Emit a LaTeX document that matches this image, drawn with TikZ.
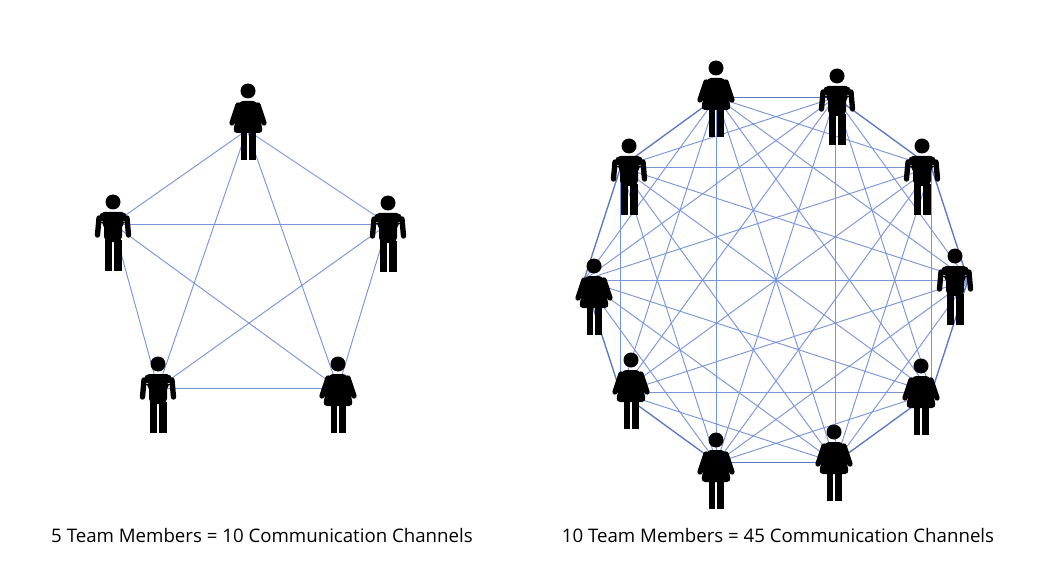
\documentclass[tikz,border=0pt]{standalone}
\usepackage{fontspec}
\setmainfont{Open Sans}
\definecolor{ln}{RGB}{120,150,215}
\definecolor{sd}{RGB}{90,120,195}
\begin{document}
\begin{tikzpicture}[x=0.75pt,y=-0.75pt,
  edge/.style={draw=ln, line width=0.7pt},
  side/.style={draw=sd, line width=1pt},
  male/.pic={
    \fill (0,0) circle (7.5);
    \fill[rounded corners=4] (-14,10) -- (14,10) -- (14,20) -- (9,20) -- (9,40) -- (-9,40) -- (-9,20) -- (-14,20) -- cycle;
    \draw[line width=4pt, line cap=round] (-14,16) -- (-15.5,33);
    \draw[line width=4pt, line cap=round] (14,16) -- (15.5,33);
    \fill (-8.5,38) rectangle (-1,69);
    \fill (1,38) rectangle (8.5,69);
  },
  female/.pic={
    \fill (0,0) circle (7.5);
    \fill[rounded corners=3] (-9,10) -- (9,10) -- (15,42) -- (-15,42) -- cycle;
    \draw[line width=4pt, line cap=round] (-10,14) -- (-16,32);
    \draw[line width=4pt, line cap=round] (10,14) -- (16,32);
    \fill (-7.5,42) rectangle (-1,69);
    \fill (1,42) rectangle (7.5,69);
  }]
\useasboundingbox (0,0) rectangle (1046,588);
% left graph
\coordinate (p1) at (247,130);
\coordinate (p2) at (388,224);
\coordinate (p3) at (338,388);
\coordinate (p4) at (158,388);
\coordinate (p5) at (113,224);
\foreach \i in {1,...,5}{\foreach \j in {1,...,5}{\ifnum\i<\j \draw[edge] (p\i) -- (p\j);\fi}}
\pic at (248,91) {female};
\pic at (388,203) {male};
\pic at (338,364) {female};
\pic at (158,364) {male};
\pic at (113,202) {male};
% right graph
\foreach \k in {0,...,9}{\coordinate (q\k) at ({776+192*cos(108-36*\k)},{280-192*sin(108-36*\k)});}
\foreach \i in {0,...,9}{\foreach \j in {0,...,9}{\ifnum\i<\j
  \pgfmathtruncatemacro{\d}{abs(\j-\i)}
  \ifnum\d=1 \draw[side] (q\i) -- (q\j);\else\ifnum\d=9 \draw[side] (q\i) -- (q\j);\else \draw[edge] (q\i) -- (q\j);\fi\fi
\fi}}
\pic at (716,68) {female};
\pic at (837,76) {male};
\pic at (922,146) {male};
\pic at (955,256) {male};
\pic at (921,366) {female};
\pic at (834,432) {female};
\pic at (716,440) {female};
\pic at (631,360) {female};
\pic at (594,266) {female};
\pic at (629,146) {male};
\node[font=\fontsize{14}{16}\selectfont] (t1) at (262,535) {5 Team Members = 10 Communication Channels};
\node[font=\fontsize{14}{16}\selectfont] (t2) at (778,535) {10 Team Members = 45 Communication Channels};
\end{tikzpicture}
\end{document}
